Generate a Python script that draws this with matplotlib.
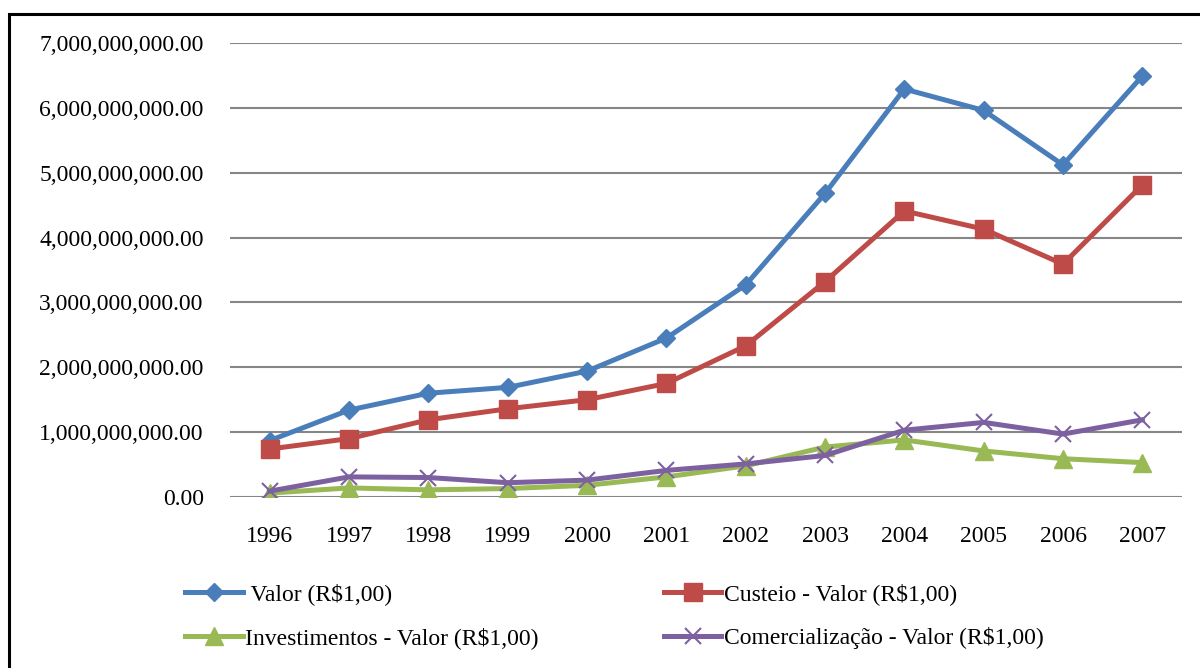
import matplotlib.pyplot as plt
import matplotlib.patches as patches
from matplotlib.ticker import FuncFormatter

plt.rcParams['font.family'] = ['Liberation Serif', 'DejaVu Serif']

# data (R$ 1,00)
years = ['1996', '1997', '1998', '1999', '2000', '2001',
         '2002', '2003', '2004', '2005', '2006', '2007']
valor = [0.87e9, 1.34e9, 1.60e9, 1.69e9, 1.94e9, 2.45e9,
         3.27e9, 4.68e9, 6.29e9, 5.96e9, 5.12e9, 6.49e9]
custeio = [0.74e9, 0.90e9, 1.19e9, 1.36e9, 1.50e9, 1.75e9,
           2.33e9, 3.32e9, 4.41e9, 4.13e9, 3.59e9, 4.81e9]
investimentos = [0.06e9, 0.14e9, 0.11e9, 0.13e9, 0.18e9, 0.31e9,
                 0.48e9, 0.77e9, 0.88e9, 0.71e9, 0.59e9, 0.53e9]
comercializacao = [0.09e9, 0.31e9, 0.30e9, 0.22e9, 0.26e9, 0.41e9,
                   0.51e9, 0.64e9, 1.03e9, 1.15e9, 0.97e9, 1.19e9]
yticks = [0, 1e9, 2e9, 3e9, 4e9, 5e9, 6e9, 7e9]

fig = plt.figure(figsize=(12, 6.68), dpi=100)
ax = fig.add_axes([0.1917, 0.256, 0.7933, 0.6797])

x = range(len(years))
lw = 3.6
h_valor, = ax.plot(x, valor, color='#4A7EBB', lw=lw, marker='D', ms=9.5,
                   mec='#4A7EBB', label=' Valor (R$1,00)', zorder=3)
h_custeio, = ax.plot(x, custeio, color='#BE4B48', lw=lw, marker='s', ms=12.5,
                     mec='#BE4B48', label='Custeio - Valor (R$1,00)', zorder=3)
h_inv, = ax.plot(x, investimentos, color='#98B954', lw=lw, marker='^', ms=12.5,
                 mec='#98B954', label='Investimentos - Valor (R$1,00)', zorder=3)
h_com, = ax.plot(x, comercializacao, color='#7D60A0', lw=lw, marker='x', ms=11,
                 mew=1.5, mec='#7D60A0', label='Comercialização - Valor (R$1,00)', zorder=4)

ax.set_xlim(-0.5, len(years) - 0.5)
ax.set_ylim(0, 7e9)
ax.set_xticks(list(x))
ax.set_xticklabels(years)
ax.set_yticks(yticks)
ax.yaxis.set_major_formatter(FuncFormatter(lambda v, p: f'{v:,.2f}'))
ax.tick_params(axis='both', length=0, labelsize=17)
ax.tick_params(axis='x', pad=21)
ax.tick_params(axis='y', pad=19)
ax.grid(axis='y', color='#868686', lw=1.5)
ax.set_axisbelow(True)
for s in ax.spines.values():
    s.set_visible(False)

# legend rows: Valor | Custeio, Investimentos | Comercializacao
fig.legend([h_valor, h_inv, h_custeio, h_com],
           [h_valor.get_label(), h_inv.get_label(), h_custeio.get_label(), h_com.get_label()],
           loc='upper left', bbox_to_anchor=(0.154, 0.127), ncol=2, frameon=False,
           fontsize=17, handlelength=2.45, handletextpad=0.1, columnspacing=5.3,
           labelspacing=0.92, borderpad=0, borderaxespad=0)

# outer chart border (runs off the right and bottom edges)
fig.patches.append(patches.Rectangle((9 / 1200, -0.1), 1.2, 1.1 - 14 / 668,
                                     transform=fig.transFigure, fill=False,
                                     lw=2.2, edgecolor='black'))

fig.savefig('out.png', dpi=100)
